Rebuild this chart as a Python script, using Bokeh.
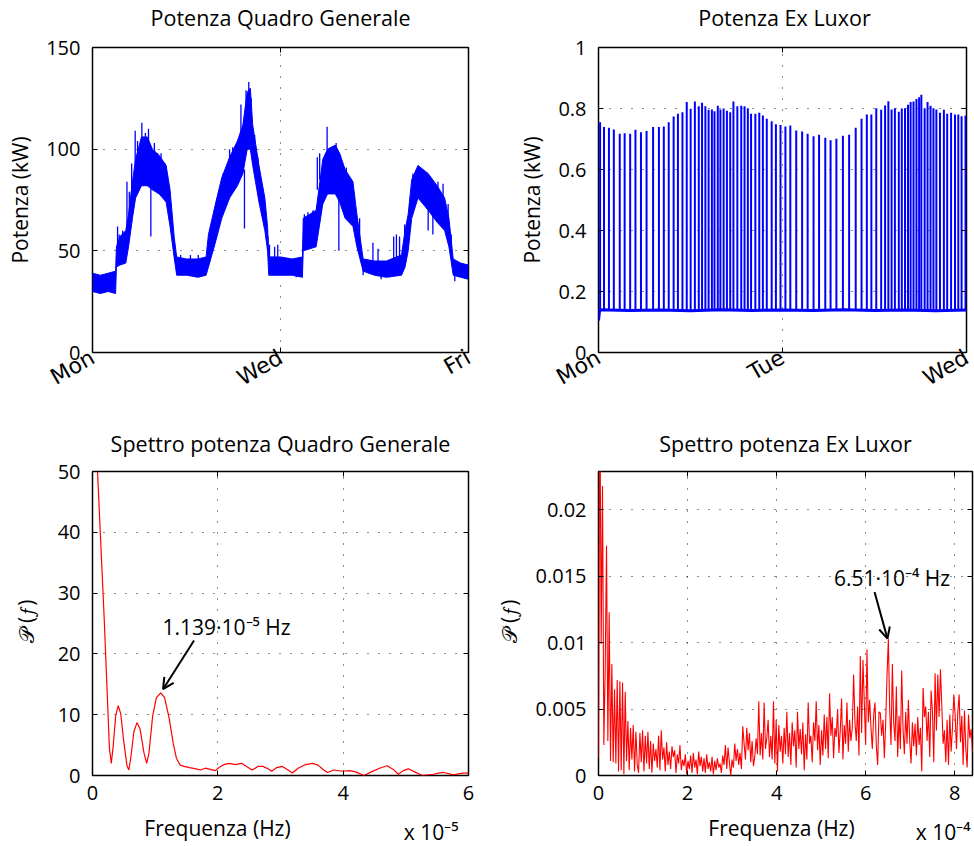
import math
from bokeh.plotting import figure
from bokeh.layouts import column, row
from bokeh.models import Range1d, FixedTicker, LinearAxis, Label, Arrow, OpenHead
from bokeh.embed import file_html
from bokeh.resources import INLINE

FONT = "Open Sans"
DAY_FONT = "DejaVu Sans"
BLUE = "#0000ff"
RED = "#ff0000"

# ---------------- data: Potenza Quadro Generale (hours from Monday 00:00, kW) -------------
qg_hours = [0, 2, 4, 5.9, 6.1, 7, 8.5, 9.2, 10.2, 11,
            12.5, 14, 15.3, 17, 18.8, 19.8, 20.9, 21.5, 24, 27,
            29, 29.6, 31.5, 33, 35, 37, 38.4, 39.5, 40.3, 40.9,
            42.5, 44, 44.7, 45, 48, 51, 53.6, 53.8, 55.5, 57.1,
            58.8, 60, 62, 63.1, 64.5, 66.5, 67.5, 69.1, 72, 75,
            78.9, 79.8, 80.6, 81.5, 83.1, 85.7, 88, 89.9, 91, 92.1,
            94, 96]
qg_low = [30, 29, 30, 29, 42, 43, 44, 52, 66, 76,
          82, 82, 80, 78, 74, 62, 46, 38, 38, 37,
          38, 42, 55, 66, 76, 82, 88, 100, 100, 92,
          74, 60, 50, 38, 38, 38, 37, 50, 51, 52,
          73, 78, 78, 74, 66, 62, 52, 40, 38, 37,
          38, 42, 50, 66, 76, 70, 64, 60, 52, 38,
          37, 36]
qg_high = [39, 38, 39, 40, 52, 57, 60, 68, 84, 95,
           106, 106, 100, 97, 92, 80, 56, 47, 46, 46,
           47, 58, 74, 86, 96, 104, 112, 128, 130, 112,
           92, 76, 62, 47, 47, 46, 47, 66, 68, 70,
           95, 100, 102, 98, 90, 84, 68, 46, 45, 45,
           48, 60, 68, 85, 92, 88, 82, 76, 66, 46,
           44, 43]
# single noisy excursions outside the band (hour, bottom, top)
qg_spike_hours = [6.4, 6.8, 7.7, 8.8, 9.4, 10.0, 10.9, 11.5, 12.6, 13.5,
                  14.3, 14.9, 15.8, 16.6, 17.5, 18.5, 20.0, 22.5, 25.0, 26.4,
                  27.0, 30.3, 31.1, 32.4, 33.4, 35.0, 35.8, 37.1, 37.9, 38.8,
                  39.2, 39.9, 40.5, 41.4, 42.2, 43.1, 43.9, 44.8, 45.2, 46.5,
                  47.3, 52.0, 54.1, 55.0, 56.3, 57.4, 58.0, 59.9, 61.0, 62.2,
                  62.9, 64.8, 65.6, 66.5, 68.2, 69.1, 71.6, 72.9, 73.7, 75.9,
                  76.9, 77.6, 78.4, 79.7, 81.0, 81.8, 83.3, 84.4, 85.7, 86.9,
                  88.2, 89.5, 90.8, 91.6, 92.5, 94.6]
qg_spike_low = [50, 50, 52, 58, 62, 70, 88, 90, 95, 95,
                95, 57, 90, 88, 85, 80, 60, 42, 42, 37,
                42, 50, 52, 62, 75, 85, 88, 90, 100, 61,
                110, 110, 110, 95, 85, 72, 62, 50, 45, 45,
                45, 37, 58, 58, 60, 80, 85, 95, 90, 92,
                50, 80, 75, 68, 55, 38, 44, 44, 36, 37,
                44, 44, 45, 50, 60, 75, 82, 75, 60, 58,
                74, 72, 62, 50, 35, 37]
qg_spike_high = [62, 58, 60, 84, 79, 93, 109, 104, 113, 108,
                 110, 85, 103, 98, 98, 93, 70, 48, 48, 42,
                 48, 63, 60, 70, 88, 100, 101, 98, 122, 90,
                 129, 133, 125, 107, 96, 84, 70, 57, 53, 52,
                 53, 42, 68, 69, 70, 96, 98, 111, 100, 103,
                 80, 91, 84, 76, 66, 44, 54, 51, 40, 40,
                 57, 58, 57, 63, 73, 88, 91, 83, 75, 75,
                 84, 83, 73, 58, 40, 40]

# ---------------- data: Potenza Ex Luxor (hours from Monday 00:00, kW) --------------------
lux_spike_hours = [0.21, 0.72, 1.36, 2.00, 2.77, 3.41, 4.13, 4.82, 5.54, 6.27,
                   7.12, 7.88, 8.52, 9.16, 9.80, 10.36, 10.95, 11.51, 12.02, 12.57,
                   13.08, 13.51, 13.94, 14.36, 14.79, 15.13, 15.56, 15.90, 16.32, 16.75,
                   17.18, 17.60, 18.11, 18.62, 19.05, 19.48, 19.90, 20.46, 20.97, 21.44,
                   21.95, 22.59, 23.14, 23.74, 24.38, 25.02, 25.79, 26.56, 27.28, 28.05,
                   28.77, 29.58, 30.27, 31.03, 31.88, 32.69, 33.55, 34.31, 35.00, 35.59,
                   36.23, 36.87, 37.38, 37.81, 38.23, 38.66, 39.17, 39.56, 39.98, 40.37,
                   40.71, 41.09, 41.47, 41.82, 42.11, 42.54, 42.92, 43.31, 43.69, 44.07,
                   44.54, 45.05, 45.48, 45.99, 46.50, 46.93, 47.36, 47.87]
lux_spike_peak = [0.755, 0.739, 0.737, 0.731, 0.717, 0.719, 0.717, 0.730, 0.722, 0.726,
                  0.739, 0.739, 0.741, 0.755, 0.774, 0.783, 0.788, 0.821, 0.799, 0.823,
                  0.807, 0.819, 0.807, 0.796, 0.797, 0.791, 0.809, 0.797, 0.800, 0.793,
                  0.788, 0.823, 0.807, 0.809, 0.807, 0.801, 0.783, 0.783, 0.786, 0.777,
                  0.766, 0.758, 0.748, 0.746, 0.741, 0.744, 0.728, 0.725, 0.717, 0.709,
                  0.714, 0.704, 0.696, 0.701, 0.711, 0.714, 0.737, 0.766, 0.780, 0.780,
                  0.801, 0.796, 0.810, 0.824, 0.797, 0.801, 0.789, 0.800, 0.801, 0.812,
                  0.821, 0.823, 0.831, 0.837, 0.845, 0.801, 0.821, 0.809, 0.801, 0.797,
                  0.786, 0.796, 0.783, 0.786, 0.780, 0.780, 0.775, 0.777]
lux_base_level = 0.138
lux_base_hours = [0, 0.15, 4, 8, 12, 16, 20, 24, 28, 32, 36, 40, 44, 48]
lux_base = [0.105, 0.140, 0.138, 0.139, 0.137, 0.140, 0.138, 0.139, 0.138, 0.140, 0.138, 0.139, 0.137, 0.139]

# ---------------- data: spectrum Quadro Generale (freq in 1e-5 Hz) ------------------------
qg_freq = [0.0, 0.08, 0.186, 0.27, 0.30, 0.33, 0.37, 0.41, 0.45, 0.50,
           0.55, 0.58, 0.61, 0.66, 0.71, 0.76, 0.82, 0.865, 0.90, 0.96,
           1.02, 1.09, 1.15, 1.22, 1.29, 1.34, 1.40, 1.46, 1.55, 1.65,
           1.72, 1.80, 1.88, 1.96, 2.03, 2.10, 2.18, 2.28, 2.38, 2.47,
           2.55, 2.64, 2.72, 2.80, 2.86, 2.94, 3.03, 3.12, 3.19, 3.28,
           3.40, 3.51, 3.60, 3.68, 3.75, 3.85, 3.99, 4.10, 4.20, 4.33,
           4.45, 4.58, 4.70, 4.80, 4.88, 4.96, 5.04, 5.14, 5.26, 5.36,
           5.44, 5.52, 5.60, 5.68, 5.76, 5.86, 5.92, 6.00]
qg_psd = [68, 50, 26, 4.5, 2.0, 4.8, 9.8, 11.5, 10.2, 5.5,
          1.6, 0.9, 2.8, 7.2, 8.7, 7.6, 3.8, 2.0, 3.6, 9.8,
          12.8, 13.6, 12.8, 9.6, 5.2, 2.8, 1.7, 1.5, 1.3, 1.1,
          0.9, 1.2, 1.0, 0.8, 1.4, 1.8, 2.0, 1.8, 2.0, 1.4,
          0.9, 1.5, 1.5, 1.1, 0.7, 1.3, 1.5, 0.9, 0.4, 1.2,
          1.8, 2.0, 1.7, 1.0, 0.5, 0.9, 0.7, 0.8, 0.6, 0.0,
          0.6, 1.2, 1.6, 1.0, 0.2, 0.8, 1.1, 0.6, 0.0, 0.1,
          0.2, 0.4, 0.5, 0.3, 0.1, 0.3, 0.4, 0.4]

# ---------------- data: spectrum Ex Luxor (bins of 0.03e-4 Hz, values in 1e-3) ------------
lux_bin_width = 0.03
lux_psd_milli = [
    1.3, 30, 9.9, 21.8, 2.3, 8.0, 17.3, 2.6, 12.3, 1.1,
    8.4, 1.0, 6.5, 0.9, 7.2, 0.3, 7.1, 0.4, 7.0, 0.1,
    6.3, 1.1, 4.1, 0.4, 3.6, 1.2, 3.8, 0.3, 3.3, 0.8,
    0.2, 3.2, 1.0, 3.4, 0.3, 3.0, 0.9, 3.3, 0.5, 2.6,
    0.2, 2.4, 1.1, 2.0, 0.6, 3.0, 0.4, 3.4, 1.2, 2.1,
    0.3, 2.5, 0.8, 1.8, 0.5, 2.2, 1.4, 1.9, 0.2, 1.6,
    0.9, 2.3, 0.4, 1.2, 0.7, 1.6, 0.1, 1.1, 0.5, 1.5,
    0.2, 1.7, 0.6, 1.2, 0.1, 1.8, 0.7, 1.4, 0.3, 1.3,
    0.2, 1.6, 0.5, 1.0, 0.3, 1.4, 0.1, 1.1, 0.4, 1.3,
    0.6, 0.9, 0.2, 1.5, 0.8, 2.3, 0.5, 2.1, 1.0, 0.0,
    1.2, 0.6, 2.4, 1.1, 2.0, 0.8, 1.7, 0.5, 3.7, 2.4,
    1.2, 3.6, 1.9, 3.2, 1.0, 2.6, 0.7, 1.4, 2.8, 1.6,
    5.6, 1.5, 3.2, 1.2, 5.5, 2.0, 2.8, 4.2, 1.4, 3.0,
    1.2, 5.6, 0.9, 4.2, 0.3, 3.8, 1.8, 3.0, 0.9, 3.6,
    1.6, 4.8, 1.4, 3.2, 0.8, 4.0, 2.2, 3.4, 0.6, 4.8,
    2.0, 3.5, 1.6, 4.0, 0.4, 3.1, 1.2, 5.5, 2.4, 3.0,
    1.0, 4.0, 2.6, 5.6, 1.9, 3.8, 0.8, 3.4, 1.5, 4.6,
    2.0, 4.4, 1.3, 6.2, 3.0, 4.4, 1.3, 3.6, 2.9, 5.0,
    1.7, 3.4, 5.8, 1.2, 3.8, 2.4, 5.5, 1.8, 4.2, 2.6,
    3.6, 7.6, 4.0, 2.6, 5.2, 1.5, 9.0, 3.2, 8.7, 5.5,
    2.3, 9.5, 4.0, 5.7, 3.6, 2.0, 4.5, 5.5, 2.2, 0.8,
    4.8, 4.7, 3.0, 4.2, 1.3, 4.0, 7.5, 10.3, 5.0, 2.3,
    8.4, 4.0, 2.6, 6.7, 1.4, 4.5, 2.0, 7.9, 3.5, 1.6,
    4.8, 2.4, 5.7, 2.6, 0.9, 4.0, 2.2, 3.9, 1.5, 4.4,
    2.3, 3.6, 0.3, 6.6, 4.4, 5.2, 2.6, 4.8, 1.4, 6.4,
    4.9, 1.0, 7.7, 3.4, 7.6, 4.4, 8.0, 5.3, 2.4, 3.4,
    1.0, 4.2, 0.8, 4.6, 1.8, 3.6, 6.1, 4.6, 2.0, 4.8,
    6.1, 2.5, 4.5, 0.8, 4.9, 2.0, 0.6, 4.6, 2.8, 3.5,
    1.8]
lux_freq = [i * lux_bin_width for i in range(len(lux_psd_milli))]
lux_psd = [v / 1000.0 for v in lux_psd_milli]

# ---------------- tick labels --------------------------------------------------------------
qg_day_ticks = [0, 48, 96]
qg_day_labels = ["Mon", "Wed", "Fri"]
lux_day_ticks = [0, 24, 48]
lux_day_labels = ["Mon", "Tue", "Wed"]
qg_y_ticks = [0, 50, 100, 150]
lux_y_ticks = [0, 0.2, 0.4, 0.6, 0.8, 1.0]
lux_y_labels = ["0", "0.2", "0.4", "0.6", "0.8", "1"]
sp_qg_x_ticks = [0, 2, 4, 6]
sp_qg_y_ticks = [0, 10, 20, 30, 40, 50]
sp_lux_x_ticks = [0, 2, 4, 6, 8]
sp_lux_y_ticks = [0, 0.005, 0.01, 0.015, 0.02]
sp_lux_y_labels = ["0", "0.005", "0.01", "0.015", "0.02"]

# ---------------- layout constants (pixels) ------------------------------------------------
LFW = 376
RFW_TOP, RFW_BOT = 368, 374
TFH, BFH = 305, 304
L_BL, L_BR = 92, 18
R_BL = 112
TOTAL_W = 974
TOP_STRIP_H = 32
T_BT, T_BB = 15, 56
B_BT, B_BB = 63, 37
BOT_STRIP_H = 34


def make_fig(title, xr, yr, fw, fh, bl, br, bt, bb):
    p = figure(x_range=Range1d(*xr), y_range=Range1d(*yr),
               frame_width=fw, frame_height=fh,
               min_border_left=bl, min_border_right=br,
               min_border_top=bt, min_border_bottom=bb,
               title=title,
               output_backend="svg", toolbar_location=None, tools="")
    if title is not None:
        p.title.text_font = FONT
        p.title.text_font_size = "21.5px"
        p.title.text_font_style = "normal"
        p.title.text_color = "black"
        p.title.align = "center"
        p.title.vertical_align = "top"
        p.title.standoff = 24
    p.outline_line_color = "black"
    p.outline_line_width = 1.5
    p.outline_line_alpha = 1.0
    p.background_fill_color = "white"
    p.border_fill_color = "white"
    return p


def style_axes(p, xticks, yticks, ylabel, ylabel_standoff, xlabels=None, ylabels=None,
               rotate=False):
    xt = FixedTicker(ticks=xticks)
    yt = FixedTicker(ticks=yticks)
    p.xaxis.ticker = xt
    p.yaxis.ticker = yt
    p.xgrid.ticker = xt
    p.ygrid.ticker = yt
    for ax in (p.xaxis[0], p.yaxis[0]):
        ax.axis_line_color = None
        ax.major_tick_in = 5
        ax.major_tick_out = 0
        ax.minor_tick_in = 0
        ax.minor_tick_out = 0
        ax.major_tick_line_color = "black"
        ax.major_label_text_font = FONT
        ax.major_label_text_font_size = "20px"
        ax.major_label_text_color = "black"
    p.yaxis.major_label_standoff = 12
    p.xaxis.major_label_standoff = 10
    p.yaxis.axis_label = ylabel
    p.yaxis.axis_label_text_font = FONT
    p.yaxis.axis_label_text_font_size = "21px"
    p.yaxis.axis_label_text_font_style = "normal"
    p.yaxis.axis_label_text_color = "black"
    p.yaxis.axis_label_standoff = ylabel_standoff
    if xlabels:
        p.xaxis.major_label_overrides = dict(zip(xticks, xlabels))
    if ylabels:
        p.yaxis.major_label_overrides = dict(zip(yticks, ylabels))
    if rotate:
        p.xaxis.major_label_orientation = math.pi / 6
        p.xaxis.major_label_text_font = DAY_FONT
        p.xaxis.major_label_text_font_size = "22px"
        p.xaxis.major_label_standoff = 3
    for g in (p.xgrid[0], p.ygrid[0]):
        g.grid_line_color = "black"
        g.grid_line_dash = "1 10"
        g.grid_line_width = 1
        g.grid_line_alpha = 0.9
    # inward tick marks on the top and right edges (MATLAB box style), no labels
    for side, tk in (("above", xt), ("right", yt)):
        ax = LinearAxis(ticker=tk, major_label_text_font_size="1px",
                        major_label_text_color=None, major_label_standoff=0,
                        major_tick_in=5, major_tick_out=0, minor_tick_in=0, minor_tick_out=0,
                        axis_line_color=None, major_tick_line_color="black")
        p.add_layout(ax, side)


def add_text(p, text, x, y, align="left", baseline="middle", size="21px"):
    p.add_layout(Label(x=x, y=y, text=text, text_align=align, text_baseline=baseline,
                       text_font=FONT, text_font_size=size, text_color="black"))


def make_strip(height):
    s = figure(x_range=Range1d(0, TOTAL_W), y_range=Range1d(0, height),
               frame_width=TOTAL_W, frame_height=height,
               min_border=0, x_axis_type=None, y_axis_type=None,
               output_backend="svg", toolbar_location=None, tools="")
    s.outline_line_color = None
    s.grid.visible = False
    s.background_fill_color = "white"
    s.border_fill_color = "white"
    return s


# ---------------- strip above the top row with its two titles (pixel coordinates) ---------
top_strip = make_strip(TOP_STRIP_H)
add_text(top_strip, "Potenza Quadro Generale", 280, 14.8, align="center", size="21.5px")
add_text(top_strip, "Potenza Ex Luxor", 784, 14.8, align="center", size="21.5px")

# ---------------- top left ----------------
p1 = make_fig(None, (0, 96), (0, 150), LFW, TFH, L_BL, L_BR, T_BT, T_BB)
style_axes(p1, qg_day_ticks, qg_y_ticks, "Potenza (kW)", 9, xlabels=qg_day_labels, rotate=True)
p1.varea(x=qg_hours, y1=qg_low, y2=qg_high, fill_color=BLUE, fill_alpha=1.0)
p1.line(qg_hours, qg_low, line_color=BLUE, line_width=1)
p1.line(qg_hours, qg_high, line_color=BLUE, line_width=1)
p1.segment(x0=qg_spike_hours, y0=qg_spike_low, x1=qg_spike_hours, y1=qg_spike_high,
           line_color=BLUE, line_width=1.3)

# ---------------- top right ----------------
p2 = make_fig(None, (0, 48), (0, 1), RFW_TOP, TFH, R_BL,
              TOTAL_W - (L_BL + LFW + L_BR + R_BL + RFW_TOP), T_BT, T_BB)
style_axes(p2, lux_day_ticks, lux_y_ticks, "Potenza (kW)", 9, xlabels=lux_day_labels,
           ylabels=lux_y_labels, rotate=True)
p2.segment(x0=lux_spike_hours, y0=[lux_base_level] * len(lux_spike_hours), x1=lux_spike_hours,
           y1=lux_spike_peak, line_color=BLUE, line_width=2)
p2.line(lux_base_hours, lux_base, line_color=BLUE, line_width=3)

# ---------------- bottom left ----------------
p3 = make_fig("Spettro potenza Quadro Generale", (0, 6), (0, 50), LFW, BFH, L_BL, L_BR, B_BT, B_BB)
style_axes(p3, sp_qg_x_ticks, sp_qg_y_ticks, "𝒫 (𝑓)", 15)
p3.line(qg_freq, qg_psd, line_color=RED, line_width=1.2)
p3.add_layout(Arrow(end=OpenHead(size=11, line_width=2, line_color="black"),
                    x_start=1.62, y_start=22.2, x_end=1.126, y_end=14.2,
                    line_width=2, line_color="black"))
add_text(p3, "1.139·10⁻⁵ Hz", 1.117, 24.4)

# ---------------- bottom right ----------------
p4 = make_fig("Spettro potenza Ex Luxor", (0, 8.4), (0, 0.0229), RFW_BOT, BFH, R_BL,
              TOTAL_W - (L_BL + LFW + L_BR + R_BL + RFW_BOT), B_BT, B_BB)
style_axes(p4, sp_lux_x_ticks, sp_lux_y_ticks, "𝒫 (𝑓)", 10, ylabels=sp_lux_y_labels)
p4.line(lux_freq, lux_psd, line_color=RED, line_width=1.1)
p4.add_layout(Arrow(end=OpenHead(size=11, line_width=2, line_color="black"),
                    x_start=6.20, y_start=0.01382, x_end=6.49, y_end=0.01031,
                    line_width=2, line_color="black"))
add_text(p4, "6.51·10⁻⁴ Hz", 5.29, 0.0149)

# ---------------- strip under the bottom row with the x labels (pixel coordinates) --------
bot_strip = make_strip(BOT_STRIP_H)
strip_texts = ["Frequenza (Hz)", "x 10⁻⁵", "Frequenza (Hz)", "x 10⁻⁴"]
strip_x = [217, 458, 781, 970]
strip_y = [19, 15, 19, 15]
strip_align = ["center", "right", "center", "right"]
for t, x, y, a in zip(strip_texts, strip_x, strip_y, strip_align):
    add_text(bot_strip, t, x, y, align=a)

layout = column(top_strip, row(p1, p2), row(p3, p4), bot_strip)
open("out.html", "w").write(file_html(layout, INLINE))
